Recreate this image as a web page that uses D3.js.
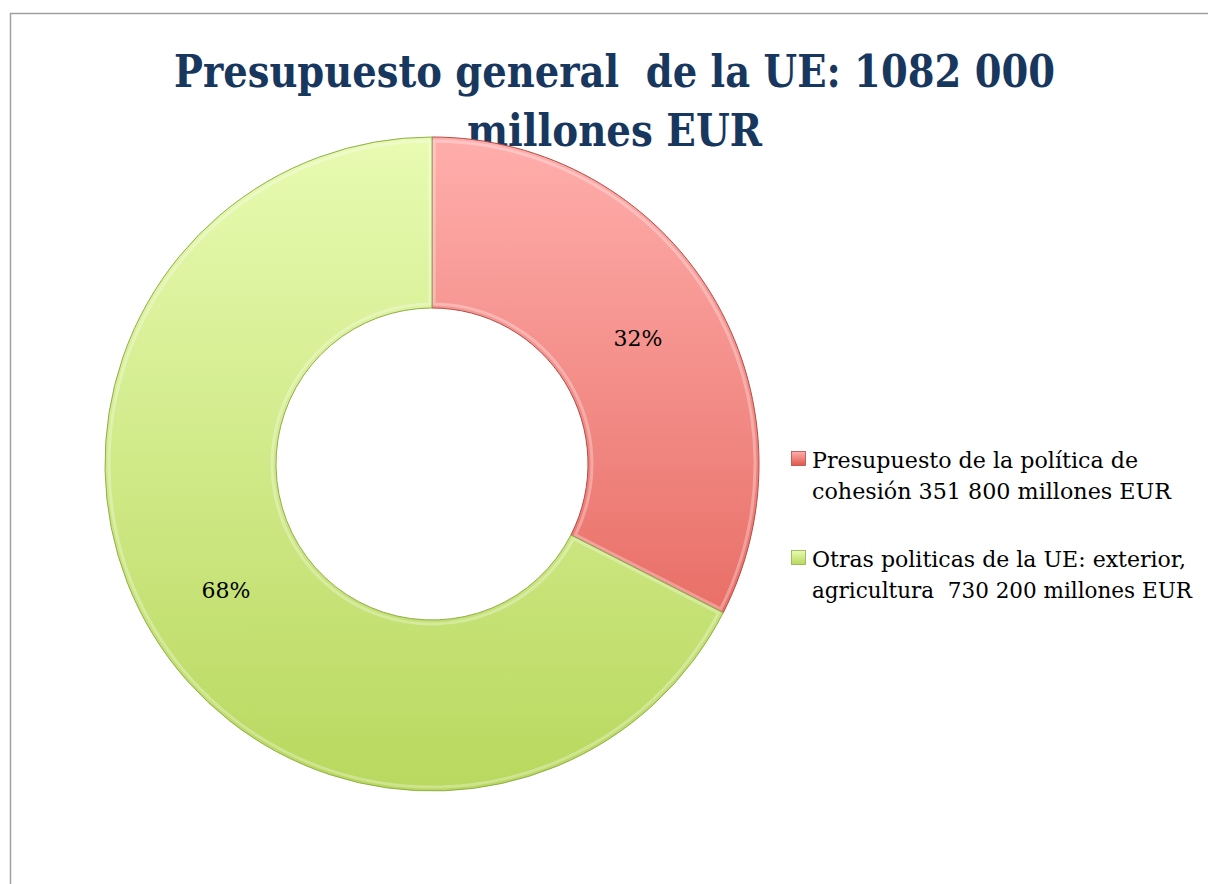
<!DOCTYPE html>
<html>
<head>
<meta charset="utf-8">
<script src="https://cdn.jsdelivr.net/npm/d3@7"></script>
<style>
  body { margin: 0; background: #fff; }
  svg { display: block; }
  .pre { white-space: pre; }
</style>
</head>
<body>
<div id="chart"></div>
<script>
// Chart data
const categories = [
  'Presupuesto de la política de cohesión 351 800 millones EUR',
  'Otras politicas de la UE: exterior, agricultura  730 200 millones EUR'
];
const legendLines = [
  ['Presupuesto de la política de', 'cohesión 351 800 millones EUR'],
  ['Otras politicas de la UE: exterior,', 'agricultura  730 200 millones EUR']
];
const values = [351800, 730200];
const pctLabels = ['32%', '68%'];
const titleLines = ['Presupuesto general  de la UE: 1082 000', 'millones EUR'];
const colorsTop = ['#ffaeac', '#e8fbb2'];
const colorsBottom = ['#e0584e', '#b8d85e'];
const strokeColors = ['#b24c46', '#8fae4a'];

const width = 1208;
const height = 884;
const cx = 432, cy = 464;
const outerR = 327, innerR = 156;
const serif = '"DejaVu Serif", serif';

const svg = d3.select('#chart').append('svg')
  .attr('width', width)
  .attr('height', height);

// Chart frame
svg.append('rect')
  .attr('x', 10.5).attr('y', 13.5)
  .attr('width', width + 20).attr('height', height + 20)
  .attr('fill', '#fff')
  .attr('stroke', '#a0a0a0')
  .attr('stroke-width', 1.5);

const defs = svg.append('defs');
categories.forEach((c, i) => {
  // slice gradient, in the donut group's coordinates
  const g = defs.append('linearGradient')
    .attr('id', 'grad' + i)
    .attr('gradientUnits', 'userSpaceOnUse')
    .attr('x1', 0).attr('y1', -outerR)
    .attr('x2', 0).attr('y2', outerR);
  g.append('stop').attr('offset', '0%').attr('stop-color', colorsTop[i]);
  g.append('stop').attr('offset', '100%').attr('stop-color', colorsBottom[i]);

  // legend marker gradient
  const lg = defs.append('linearGradient')
    .attr('id', 'legGrad' + i)
    .attr('x1', 0).attr('y1', 0).attr('x2', 0).attr('y2', 1);
  lg.append('stop').attr('offset', '0%').attr('stop-color', colorsTop[i]);
  lg.append('stop').attr('offset', '100%').attr('stop-color', colorsBottom[i]);
});

// Title
const titleY = [87, 146];
const titleWidths = [881, 295];
const title = svg.append('g');
titleLines.forEach((t, i) => {
  title.append('text')
    .attr('class', 'pre')
    .attr('x', 614.5)
    .attr('y', titleY[i])
    .attr('text-anchor', 'middle')
    .attr('font-family', serif)
    .attr('font-weight', 'bold')
    .attr('font-size', 44)
    .attr('fill', '#17375e')
    .attr('textLength', titleWidths[i])
    .attr('lengthAdjust', 'spacingAndGlyphs')
    .text(t);
});

// Donut
const pie = d3.pie().sort(null)(values);
const arc = d3.arc().innerRadius(innerR).outerRadius(outerR);

const g = svg.append('g').attr('transform', `translate(${cx},${cy})`);

g.selectAll('path.slice')
  .data(pie)
  .join('path')
  .attr('class', 'slice')
  .attr('d', arc)
  .attr('fill', (d, i) => `url(#grad${i})`)
  .attr('stroke', (d, i) => strokeColors[i])
  .attr('stroke-width', 1);

// Soft inner highlight to suggest the bevel
g.selectAll('path.hl')
  .data(pie)
  .join('path')
  .attr('class', 'hl')
  .attr('d', d3.arc().innerRadius(innerR + 4).outerRadius(outerR - 4).padAngle(0.012))
  .attr('fill', 'none')
  .attr('stroke', 'rgba(255,255,255,0.3)')
  .attr('stroke-width', 3);

g.selectAll('text.pct')
  .data(pie)
  .join('text')
  .attr('class', 'pct')
  .attr('transform', d => `translate(${arc.centroid(d)})`)
  .attr('text-anchor', 'middle')
  .attr('dy', '0.35em')
  .attr('font-family', serif)
  .attr('font-size', 22)
  .attr('fill', '#000')
  .text((d, i) => pctLabels[i]);

// Legend
const legend = svg.append('g');
const legendY = [468, 567];
const legendWidths = [[326, 359], [374, 380]];
legendLines.forEach((lines, i) => {
  legend.append('rect')
    .attr('x', 791.5).attr('y', legendY[i] - 16.5)
    .attr('width', 14).attr('height', 14)
    .attr('fill', `url(#legGrad${i})`)
    .attr('stroke', strokeColors[i])
    .attr('stroke-width', 0.8);

  lines.forEach((line, j) => {
    legend.append('text')
      .attr('class', 'pre')
      .attr('x', 812)
      .attr('y', legendY[i] + j * 31)
      .attr('font-family', serif)
      .attr('font-size', 21.5)
      .attr('fill', '#000')
      .attr('textLength', legendWidths[i][j])
      .attr('lengthAdjust', 'spacingAndGlyphs')
      .text(line);
  });
});
</script>
</body>
</html>
